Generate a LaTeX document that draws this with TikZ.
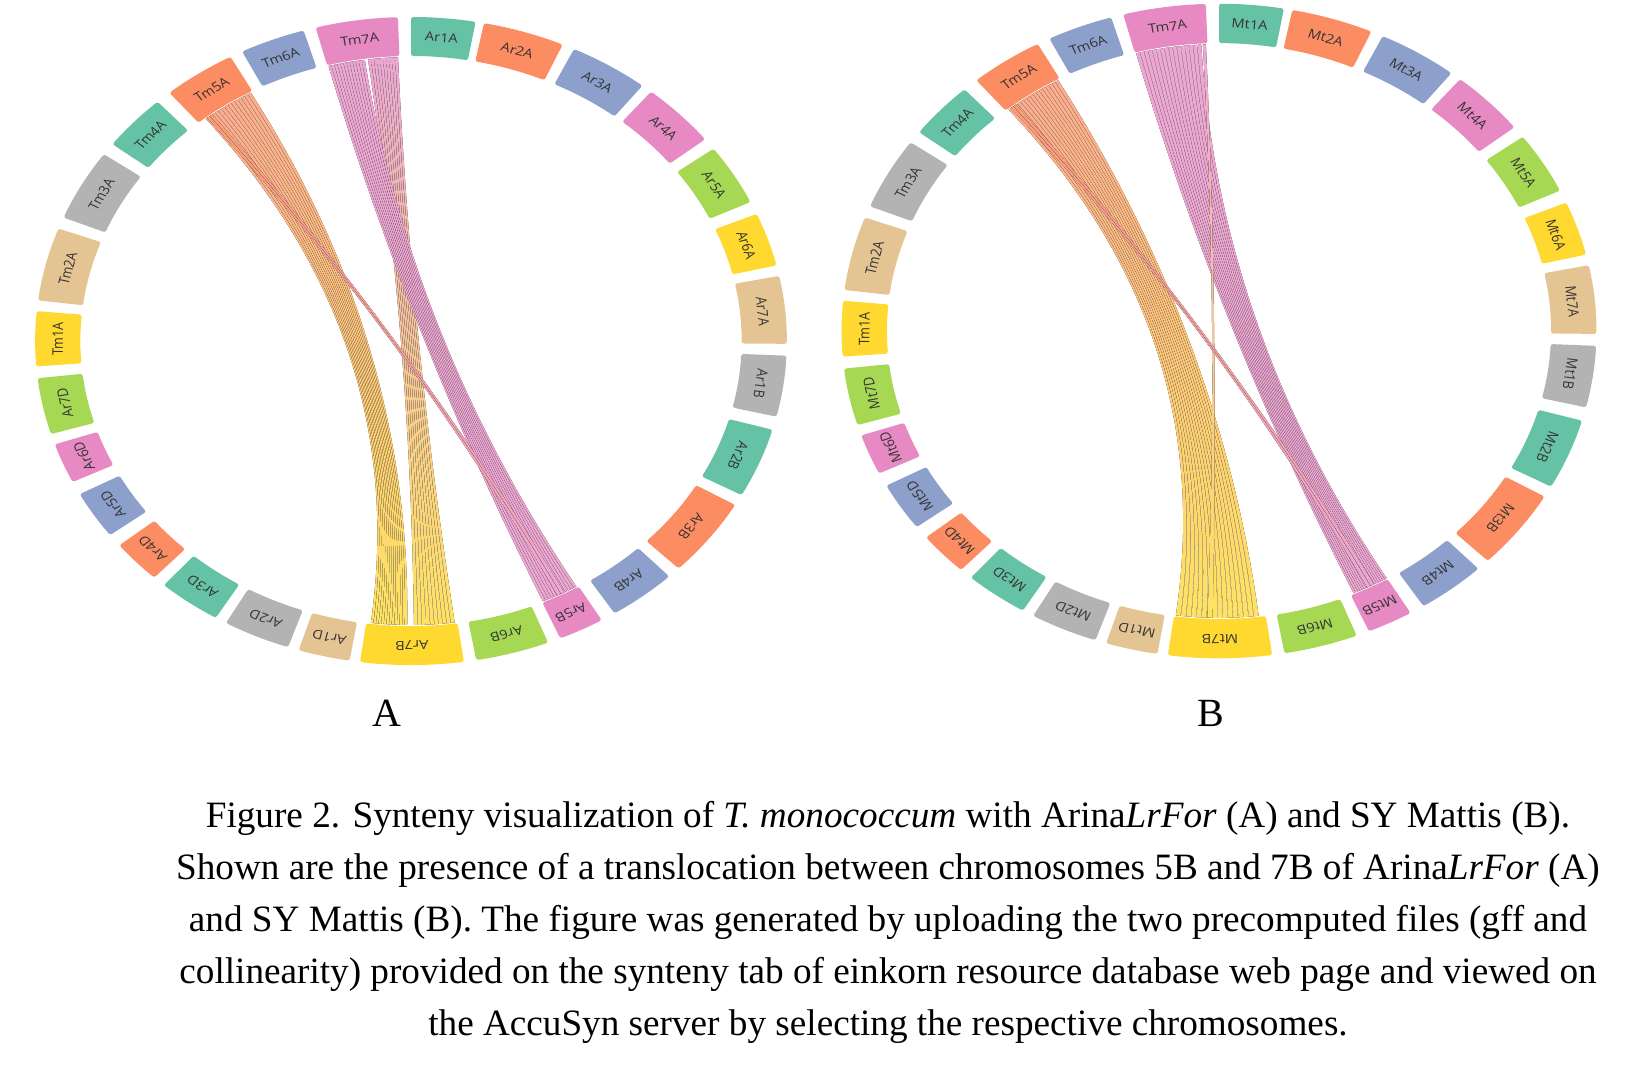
\documentclass[tikz,border=0pt]{standalone}
\usepackage{fontspec}
\setmainfont{Liberation Serif}
\newfontfamily\chrfont{Open Sans}
\usepackage{tikz}
\usetikzlibrary{calc}

\definecolor{pal0}{HTML}{66C2A5}
\definecolor{pal1}{HTML}{FC8D62}
\definecolor{pal2}{HTML}{8DA0CB}
\definecolor{pal3}{HTML}{E78AC3}
\definecolor{pal4}{HTML}{A6D854}
\definecolor{pal5}{HTML}{FFD92F}
\definecolor{pal6}{HTML}{E5C494}
\definecolor{pal7}{HTML}{B3B3B3}
\colorlet{lnkorange}{pal1!72!white}
\colorlet{lnkpink}{pal3!75!white}
\colorlet{lnkyellow}{pal5!75!white}

\tikzset{
	chr/.style={rounded corners=1.2pt},
	chrlabel/.style={font=\chrfont\fontsize{6.3}{7}\selectfont, text=black!80, inner sep=0pt, transform shape},
	panel/.style={font=\fontsize{20}{24}\selectfont},
	caption/.style={font=\fontsize{18.6}{26}\selectfont, align=center, inner sep=0pt}
}

\newcommand{\ring}[2]{%
	\def\pfx{#2}%
	\foreach \nm/\a/\b [count=\i from 0] in {\pfx1A/0/9.9, \pfx2A/11.2/23.8, \pfx3A/25.7/38, \pfx4A/39.7/51.5, \pfx5A/53.6/64.6, \pfx6A/66.9/76.5, \pfx7A/78.4/90.5,
		\pfx1B/92.6/103.5, \pfx2B/105.9/118.4, \pfx3B/120.4/134.6, \pfx4B/136.6/147.2, \pfx5B/149.5/156.6, \pfx6B/158.6/170, \pfx7B/171.9/187.8,
		\pfx1D/189.4/197.4, \pfx2D/199.1/209.5, \pfx3D/211.3/221.1, \pfx4D/223.1/230.9, \pfx5D/233.2/241.8, \pfx6D/244.2/251.4, \pfx7D/253.3/263.4,
		Tm1A/265.5/275.3, Tm2A/277.2/290.3, Tm3A/292.4/305.2, Tm4A/307.4/317.6, Tm5A/320/331.3, Tm6A/333.3/343.4, Tm7A/345.3/358}{
		\pgfmathtruncatemacro\ci{mod(\i,8)}
		\pgfmathsetmacro\m{(\a+\b)/2}
		\fill[pal\ci, chr]	(\a-90:285) arc[start angle=\a-90, end angle=\b-90, radius=285] -- (\b-90:324) arc[start angle=\b-90, end angle=\a-90, radius=324] -- cycle;
		\node[chrlabel, rotate=-\m] (#1-\i) at (\m-90:304.5) {\nm};
	}}

% source #1-#2 is laid on target #4-#3 (reversed), #7 strands
\newcommand{\links}[7]{%
	\foreach \k in {1,...,#7}{
		\pgfmathsetmacro\sa{#1+(#2-#1)*(\k-1)/#7}
		\pgfmathsetmacro\sb{\sa+0.88*(#2-#1)/#7}
		\pgfmathsetmacro\ta{#4-(#4-#3)*(\k-1)/#7}
		\pgfmathsetmacro\tb{\ta-0.88*(#4-#3)/#7}
		\fill[top color=#5, bottom color=#6]
			(\sa-90:284) arc[start angle=\sa-90, end angle=\sb-90, radius=284]
			.. controls (\sb-90:95) and (\tb-90:95) .. (\tb-90:284)
			arc[start angle=\tb-90, end angle=\ta-90, radius=284]
			.. controls (\ta-90:95) and (\sa-90:95) .. (\sa-90:284) -- cycle;
	}}

\begin{document}
\begin{tikzpicture}[x=0.5pt, y=-0.5pt]
	\useasboundingbox				(0,0) rectangle (1644,1066);

	% A: ArinaLrFor
	\begin{scope}[shift={(411,341)}, xscale=1.16]
		\links{321.5}{331}{180.6}{187}{lnkorange}{lnkyellow}{14}
		\links{352.5}{357.8}{172.3}{179.5}{lnkpink}{lnkyellow}{10}
		\links{345.5}{352}{149.8}{156.4}{lnkpink}{lnkpink}{12}
		\links{321.8}{323}{152.2}{153.6}{pal1!85!white}{lnkpink}{2}
		\ring{A}{Ar}
	\end{scope}

	% B: SY Mattis
	\begin{scope}[shift={(1219,331)}, xscale=1.165, yscale=1.01]
		\links{320.5}{331}{173}{187.5}{lnkorange}{lnkyellow}{16}
		\links{345.5}{357}{149.5}{156}{lnkpink}{lnkpink}{16}
		\links{357.2}{357.8}{181}{182}{lnkpink}{lnkyellow}{1}
		\links{321}{322.2}{152}{153.4}{pal1!85!white}{lnkpink}{2}
		\ring{B}{Mt}
	\end{scope}

	\node[panel] (labA) at (387,713) {A};
	\node[panel] (labB) at (1211,713) {B};

	\node[caption] (cap) at (888,922.5) {Figure 2. Synteny visualization of \textit{T. monococcum} with Arina\textit{LrFor} (A) and SY Mattis (B).\\
		Shown are the presence of a translocation between chromosomes 5B and 7B of Arina\textit{LrFor} (A)\\
		and SY Mattis (B). The figure was generated by uploading the two precomputed files (gff and\\
		collinearity) provided on the synteny tab of einkorn resource database web page and viewed on\\
		the AccuSyn server by selecting the respective chromosomes.};
\end{tikzpicture}
\end{document}
